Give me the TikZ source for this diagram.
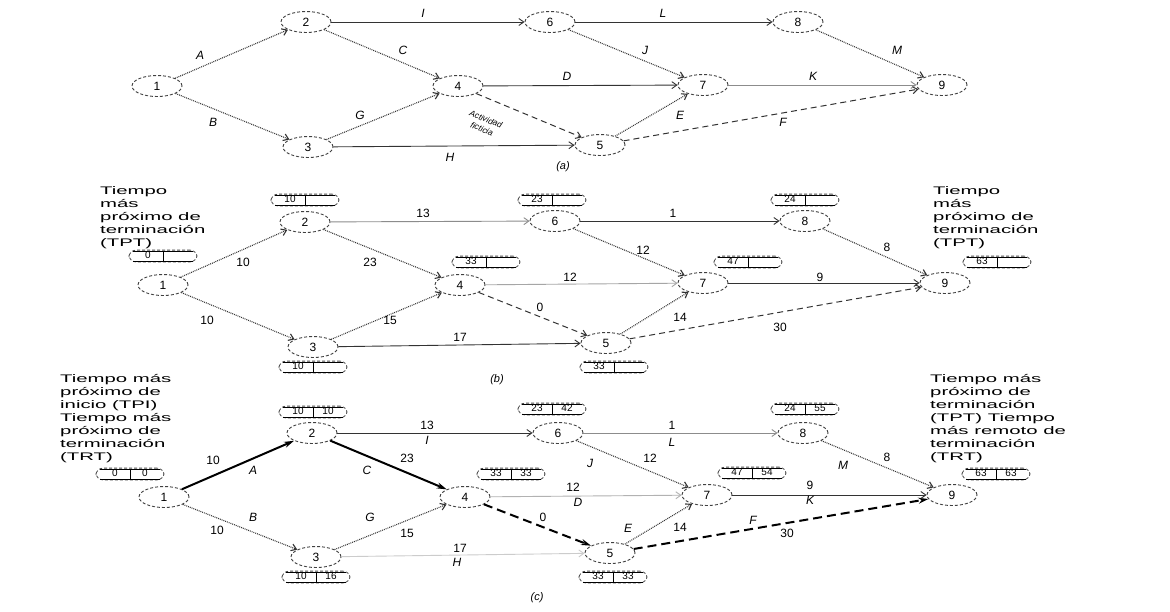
\documentclass[tikz,border=0pt]{standalone}
\usepackage{fontspec}
\setmainfont{Liberation Sans}
\newfontfamily\widefont[FakeStretch=1.85]{Liberation Sans}
\usetikzlibrary{shapes.geometric,arrows.meta}
\newcommand\cb[2]{{\setlength\tabcolsep{2pt}\renewcommand\arraystretch{1.0}\begin{tabular}{c|c}\hline\makebox[26pt]{#1}&\makebox[26pt]{#2}\\\hline\end{tabular}}}
\begin{document}
\begin{tikzpicture}[x=1pt,y=-1pt,
  ev/.style={ellipse, draw=black!75, densely dashed, line width=0.9pt, minimum width=50pt, minimum height=21pt, inner sep=0pt, font=\fontsize{12}{12}\selectfont},
  bx/.style={draw=black!70, densely dashed, line width=0.8pt, rounded corners=7pt, inner xsep=4pt, inner ysep=0.5pt, font=\fontsize{10}{10}\selectfont},
  arc/.style={draw=black!80, line width=0.9pt, -{Straight Barb[length=5pt,width=7pt]}},
  dot/.style={arc, densely dotted, line width=1.1pt},
  dsh/.style={arc, dash pattern=on 6pt off 4pt, line width=1pt},
  crit/.style={line width=2pt, -{Stealth[length=10pt,width=6pt]}},
  lb/.style={font=\fontsize{12}{12}\selectfont\itshape, inner sep=1pt},
  num/.style={font=\fontsize{12}{12}\selectfont, inner sep=1pt},
  txt/.style={align=left, anchor=north west, font=\widefont\fontsize{11}{13}\selectfont, inner sep=0pt},
  captext/.style={font=\fontsize{11}{11}\selectfont\itshape}]
\useasboundingbox (0,0) rectangle (1170,611);
\fill[white] (0,0) rectangle (1170,611);

% ---------------- (a) ----------------
\node[ev] (a1) at (157,86) {1};
\node[ev] (a2) at (306,22) {2};
\node[ev] (a3) at (308,147) {3};
\node[ev] (a4) at (458,86) {4};
\node[ev] (a5) at (600,145) {5};
\node[ev] (a6) at (550,22) {6};
\node[ev] (a7) at (703,85) {7};
\node[ev] (a8) at (798,22) {8};
\node[ev] (a9) at (942,85) {9};
\draw[dot] (a1) -- (a2);
\draw[dot] (a1) -- (a3);
\draw[dot] (a2) -- (a4);
\draw[dot] (a3) -- (a4);
\draw[arc] (a2) -- (a6);
\draw[arc] (a3) -- (a5);
\draw[arc] (a4) -- (a7);
\draw[dsh] (a4) -- (a5);
\draw[dot] (a5) -- (a7);
\draw[dsh] (a5) -- (a9);
\draw[dot] (a6) -- (a7);
\draw[arc] (a6) -- (a8);
\draw[arc, draw=black!45] (a7) -- (a9);
\draw[dot] (a8) -- (a9);
\node[lb] (la) at (200,55) {A};
\node[lb] (lbb) at (213,122) {B};
\node[lb] (lc) at (403,50) {C};
\node[lb] (lg) at (360,115) {G};
\node[lb] (li) at (423,13) {I};
\node[lb] (lh) at (450,157) {H};
\node[lb] (ld) at (567,76) {D};
\node[lb] (le) at (680,115) {E};
\node[lb] (lf) at (783,122) {F};
\node[lb] (lj) at (645,50) {J};
\node[lb] (ll) at (663,13) {L};
\node[lb] (lk) at (813,76) {K};
\node[lb] (lm) at (897,50) {M};
\node[rotate=-22, align=center, font=\fontsize{8.5}{10.5}\selectfont\itshape] (dum) at (484,124) {Actividad\\ficticia};
\node[captext] (capa) at (563,167) {(a)};

% ---------------- (b) ----------------
\node[ev] (b1) at (163,285) {1};
\node[ev] (b2) at (305,222) {2};
\node[ev] (b3) at (313,347) {3};
\node[ev] (b4) at (460,285) {4};
\node[ev] (b5) at (606,343) {5};
\node[ev] (b6) at (555,221) {6};
\node[ev] (b7) at (703,283) {7};
\node[ev] (b8) at (805,221) {8};
\node[ev] (b9) at (945,283) {9};
\draw[dot] (b1) -- (b2);
\draw[dot] (b1) -- (b3);
\draw[dot] (b2) -- (b4);
\draw[dot] (b3) -- (b4);
\draw[arc, draw=black!45] (b2) -- (b6);
\draw[arc] (b3) -- (b5);
\draw[arc, draw=black!35] (b4) -- (b7);
\draw[dsh] (b4) -- (b5);
\draw[dot] (b5) -- (b7);
\draw[dsh] (b5) -- (b9);
\draw[dot] (b6) -- (b7);
\draw[arc] (b6) -- (b8);
\draw[arc] (b7) -- (b9);
\draw[dot] (b8) -- (b9);
\node[bx] (bb1) at (163,256) {\cb{0}{}};
\node[bx] (bb2) at (305,200) {\cb{10}{}};
\node[bx] (bb3) at (313,367) {\cb{10}{}};
\node[bx] (bb4) at (486,262) {\cb{33}{}};
\node[bx] (bb5) at (614,367) {\cb{33}{}};
\node[bx] (bb6) at (552,200) {\cb{23}{}};
\node[bx] (bb7) at (748,262) {\cb{47}{}};
\node[bx] (bb8) at (805,200) {\cb{24}{}};
\node[bx] (bb9) at (997,262) {\cb{63}{}};
\node[num] (n1) at (243,262) {10};
\node[num] (n2) at (370,262) {23};
\node[num] (n3) at (207,320) {10};
\node[num] (n4) at (390,320) {15};
\node[num] (n5) at (460,337) {17};
\node[num] (n6) at (423,213) {13};
\node[num] (n7) at (673,213) {1};
\node[num] (n8) at (643,250) {12};
\node[num] (n9) at (570,277) {12};
\node[num] (n10) at (820,277) {9};
\node[num] (n11) at (887,247) {8};
\node[num] (n12) at (540,307) {0};
\node[num] (n13) at (680,317) {14};
\node[num] (n14) at (780,327) {30};
\node[captext] (capb) at (497,380) {(b)};
\node[txt] (tb1) at (100,186) {Tiempo\\más\\próximo de\\terminación\\(TPT)};
\node[txt] (tb2) at (933,186) {Tiempo\\más\\próximo de\\terminación\\(TPT)};

% ---------------- (c) ----------------
\node[ev] (c1) at (164,497) {1};
\node[ev] (c2) at (312,433) {2};
\node[ev] (c3) at (316,557) {3};
\node[ev] (c4) at (465,497) {4};
\node[ev] (c5) at (610,553) {5};
\node[ev] (c6) at (558,433) {6};
\node[ev] (c7) at (707,495) {7};
\node[ev] (c8) at (803,433) {8};
\node[ev] (c9) at (952,495) {9};
\draw[crit] (c1) -- (c2);
\draw[dot] (c1) -- (c3);
\draw[crit] (c2) -- (c4);
\draw[dot] (c3) -- (c4);
\draw[arc] (c2) -- (c6);
\draw[arc, draw=black!20] (c3) -- (c5);
\draw[arc, draw=black!30] (c4) -- (c7);
\draw[crit, dash pattern=on 9pt off 5pt] (c4) -- (c5);
\draw[dot] (c5) -- (c7);
\draw[crit, dash pattern=on 9pt off 5pt] (c5) -- (c9);
\draw[dot] (c6) -- (c7);
\draw[arc, draw=black!45] (c6) -- (c8);
\draw[arc] (c7) -- (c9);
\draw[dot] (c8) -- (c9);
\node[bx] (cb1) at (130,474) {\cb{0}{0}};
\node[bx] (cb2) at (313,412) {\cb{10}{10}};
\node[bx] (cb3) at (316,577) {\cb{10}{16}};
\node[bx] (cb4) at (511,474) {\cb{33}{33}};
\node[bx] (cb5) at (613,577) {\cb{33}{33}};
\node[bx] (cb6) at (552,409) {\cb{23}{42}};
\node[bx] (cb7) at (752,473) {\cb{47}{54}};
\node[bx] (cb8) at (805,409) {\cb{24}{55}};
\node[bx] (cb9) at (996,474) {\cb{63}{63}};
\node[num] (m1) at (213,460) {10};
\node[lb] (mA) at (253,470) {A};
\node[num] (m2) at (407,458) {23};
\node[lb] (mC) at (367,470) {C};
\node[lb] (mB) at (253,517) {B};
\node[num] (m3) at (217,530) {10};
\node[lb] (mG) at (370,517) {G};
\node[num] (m4) at (407,533) {15};
\node[num] (m5) at (460,548) {17};
\node[lb] (mH) at (457,562) {H};
\node[num] (m6) at (427,425) {13};
\node[lb] (mI) at (427,440) {I};
\node[num] (m7) at (672,425) {1};
\node[lb] (mL) at (672,442) {L};
\node[lb] (mJ) at (590,463) {J};
\node[num] (m8) at (650,458) {12};
\node[num] (m9) at (573,487) {12};
\node[lb] (mD) at (578,502) {D};
\node[num] (m10) at (543,517) {0};
\node[lb] (mE) at (628,528) {E};
\node[num] (m11) at (680,527) {14};
\node[num] (m12) at (810,485) {9};
\node[lb] (mK) at (810,500) {K};
\node[lb] (mF) at (753,520) {F};
\node[num] (m13) at (787,533) {30};
\node[lb] (mM) at (843,465) {M};
\node[num] (m14) at (887,457) {8};
\node[captext] (capc) at (537,598) {(c)};
\node[txt] (tc1) at (60,374) {Tiempo más\\próximo de\\inicio (TPI)\\Tiempo más\\próximo de\\terminación\\(TRT)};
\node[txt] (tc2) at (930,374) {Tiempo más\\próximo de\\terminación\\(TPT) Tiempo\\más remoto de\\terminación\\(TRT)};
\end{tikzpicture}
\end{document}
